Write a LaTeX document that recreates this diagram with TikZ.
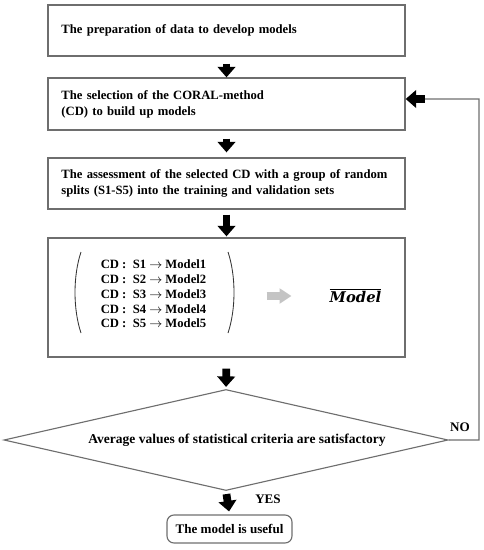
\documentclass[tikz,border=0pt]{standalone}
\usepackage{fontspec}
\setmainfont{Liberation Serif}
\newfontfamily\meanfont{DejaVu Serif}
\usetikzlibrary{arrows.meta,shapes.geometric}
\definecolor{boxLine}{HTML}{6E6E6E}
\definecolor{meanArrow}{HTML}{C4C4C4}
\tikzset{
  procbox/.style={rectangle, draw=boxLine, line width=0.9pt, align=left, font=\fontsize{9}{11.4}\selectfont\bfseries, text width=8.25cm, minimum width=8.925cm, inner xsep=0.33cm, inner ysep=0pt},
  decision/.style={diamond, draw=boxLine, line width=0.8pt, aspect=4.4, inner sep=0pt, minimum width=11.1cm, minimum height=2.525cm, font=\fontsize{9.6}{11}\selectfont\bfseries},
  endbox/.style={rectangle, rounded corners=5pt, draw=boxLine, line width=0.8pt, minimum width=3.125cm, minimum height=0.7cm, inner sep=0pt, font=\fontsize{9.3}{11}\selectfont\bfseries},
  blockarrow/.style={-{Triangle[width=12.5pt,length=7.5pt]}, line width=5.5pt, draw=black},
  grayarrow/.style={-{Triangle[width=10.5pt,length=8.5pt]}, line width=5pt, draw=meanArrow},
  looplink/.style={draw=boxLine, line width=0.8pt},
  flowlabel/.style={font=\fontsize{9.3}{11}\selectfont\bfseries, inner sep=0pt},
}
\begin{document}
\begin{tikzpicture}[x=0.025cm,y=-0.025cm]
  \useasboundingbox (0,0) rectangle (484,550);

  % process boxes
  \node[procbox, minimum height=1.275cm] (prep) at (226.5,30.5) {The preparation of data to develop models};
  \node[procbox, minimum height=1.3cm] (select) at (226.5,104) {The selection of the CORAL-method\\(CD) to build up models};
  \node[procbox, minimum height=1.275cm] (assess) at (226.5,183.5) {The assessment of the selected CD with a group of random\\splits (S1-S5) into the training and validation sets};
  \node[procbox, minimum height=2.975cm] (models) at (226.5,297.5) {};

  % splits and mean model
  \node[font=\fontsize{9}{10.5}\selectfont\bfseries, align=left, inner sep=0pt] (splits) at (153.5,294) {CD :\ \ S1 $\rightarrow$ Model1\\CD :\ \ S2 $\rightarrow$ Model2\\CD :\ \ S3 $\rightarrow$ Model3\\CD :\ \ S4 $\rightarrow$ Model4\\CD :\ \ S5 $\rightarrow$ Model5};
  \draw[black!80, line width=0.6pt] (81,252) .. controls (73,276) and (73,309) .. (81,333);
  \draw[black!80, line width=0.6pt] (228,252) .. controls (236,276) and (236,309) .. (228,333);
  \node[inner sep=0pt, font=\fontsize{10.5}{12}\selectfont] (mean) at (355.5,296) {$\overline{\mbox{\meanfont\bfseries\itshape Model}}$};
  \draw[grayarrow] ([xshift=1.5cm]splits.east |- mean.west) -- ([xshift=-0.95cm]mean.west);

  % decision and end
  \node[decision] (check) at (226,440) {\hspace*{0.55cm}Average values of statistical criteria are satisfactory};
  \node[endbox] (useful) at (229.5,529) {The model is useful};

  \node[flowlabel] (no) at (460,427) {NO};
  \node[flowlabel] (yes) at (268,499) {YES};

  % flow arrows
  \draw[blockarrow, shorten <=0.175cm] (prep.south) -- (select.north);
  \draw[blockarrow, shorten <=0.2cm, shorten >=0.125cm] (select.south) -- (assess.north);
  \draw[blockarrow, shorten <=0.125cm, shorten >=0.025cm] (assess.south) -- (models.north);
  \draw[blockarrow, shorten <=0.275cm, shorten >=0.05cm] (models.south) -- (check.north);
  \draw[blockarrow, shorten <=0.075cm, shorten >=0.075cm] (check.south) -- (useful.north);

  % feedback loop
  \coordinate (loop) at (479,99);
  \draw[looplink] (check.east) -| (loop) -- ([xshift=0.45cm,yshift=0.125cm]select.east);
  \draw[blockarrow] ([xshift=0.475cm,yshift=0.125cm]select.east) -- ([yshift=0.125cm]select.east);
\end{tikzpicture}
\end{document}
